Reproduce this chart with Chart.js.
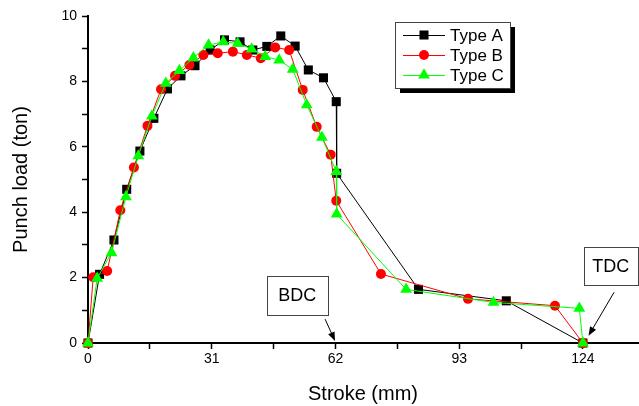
<!DOCTYPE html>
<html>
<head>
<meta charset="utf-8">
<script src="https://cdn.jsdelivr.net/npm/chart.js@4/dist/chart.umd.min.js"></script>
<style>
  html, body { margin: 0; padding: 0; background: #fff; }
  #wrap { width: 639px; height: 406px; }
</style>
</head>
<body>
<div id="wrap"><canvas id="myChart" width="639" height="406"></canvas></div>
<script>
const strokeA = [0, 2.9, 6.5, 9.7, 13.0, 16.5, 19.9, 23.3, 26.8, 30.6, 34.2, 38.1, 41.3, 44.8, 48.3, 51.9, 55.2, 59.0, 62.2, 62.3, 82.8, 104.8, 124];
const loadA = [0, 2.1, 3.15, 4.7, 5.87, 6.87, 7.77, 8.17, 8.48, 8.96, 9.27, 9.21, 8.96, 9.07, 9.39, 9.08, 8.35, 8.11, 7.38, 5.19, 1.64, 1.29, 0];

const strokeB = [0, 1.3, 4.8, 8.1, 11.5, 14.9, 18.3, 21.8, 25.4, 28.9, 32.5, 36.3, 39.8, 43.3, 46.9, 50.4, 53.8, 57.3, 60.8, 62.2, 73.4, 95.2, 117.0, 124];
const loadB = [0, 2.01, 2.2, 4.06, 5.37, 6.64, 7.76, 8.17, 8.5, 8.81, 8.86, 8.91, 8.81, 8.71, 9.04, 8.96, 7.74, 6.61, 5.76, 4.35, 2.11, 1.35, 1.14, 0];

const strokeC = [0, 2.3, 5.9, 9.5, 12.6, 16.0, 19.5, 22.9, 26.4, 30.2, 33.9, 37.5, 41.0, 44.4, 47.9, 51.3, 54.8, 58.6, 62.2, 62.3, 79.7, 101.6, 123.1, 124];
const loadC = [0, 1.98, 2.76, 4.47, 5.72, 6.94, 7.94, 8.33, 8.72, 9.11, 9.21, 9.16, 8.99, 8.76, 8.65, 8.37, 7.28, 6.29, 5.24, 3.94, 1.64, 1.24, 1.06, 0];

const seriesNames = ['Type A', 'Type B', 'Type C'];
const xTickLabels = [0, 31, 62, 93, 124];
const yTickLabels = [0, 2, 4, 6, 8, 10];

const toPoints = (xs, ys) => xs.map((x, i) => ({x: x, y: ys[i]}));

// text boxes with arrows, in data units: box corners, arrow start, arrow tip
const notes = [
    {text: 'BDC', box: [44.8, 2.05, 60.0, 0.86], from: [59.4, 0.73], to: [61.9, 0.06]},
    {text: 'TDC', box: [124.2, 2.93, 137.7, 1.77], from: [131.8, 1.55], to: [125.4, 0.22]}
];

const fontName = '"Liberation Sans", Arial, sans-serif';

const notesPlugin = {
    id: 'notes',
    afterDraw(chart) {
        const c = chart.ctx;
        const xs = chart.scales.x, ys = chart.scales.y;
        c.save();
        notes.forEach(n => {
            const x1 = xs.getPixelForValue(n.box[0]), y1 = ys.getPixelForValue(n.box[1]);
            const x2 = xs.getPixelForValue(n.box[2]), y2 = ys.getPixelForValue(n.box[3]);
            c.fillStyle = '#fff';
            c.fillRect(x1, y1, x2 - x1, y2 - y1);
            c.strokeStyle = '#444';
            c.lineWidth = 1;
            c.strokeRect(Math.round(x1) + 0.5, Math.round(y1) + 0.5, Math.round(x2 - x1), Math.round(y2 - y1));
            c.fillStyle = '#000';
            c.font = '18px ' + fontName;
            c.textAlign = 'center';
            c.textBaseline = 'middle';
            c.fillText(n.text, (x1 + x2) / 2, (y1 + y2) / 2 + 1);
            // arrow
            const ax = xs.getPixelForValue(n.from[0]), ay = ys.getPixelForValue(n.from[1]);
            const bx = xs.getPixelForValue(n.to[0]), by = ys.getPixelForValue(n.to[1]);
            const ang = Math.atan2(by - ay, bx - ax);
            c.strokeStyle = '#000';
            c.beginPath();
            c.moveTo(ax, ay);
            c.lineTo(bx - 6 * Math.cos(ang), by - 6 * Math.sin(ang));
            c.stroke();
            c.beginPath();
            c.moveTo(bx, by);
            c.lineTo(bx - 9 * Math.cos(ang) + 3.5 * Math.sin(ang), by - 9 * Math.sin(ang) - 3.5 * Math.cos(ang));
            c.lineTo(bx - 9 * Math.cos(ang) - 3.5 * Math.sin(ang), by - 9 * Math.sin(ang) + 3.5 * Math.cos(ang));
            c.closePath();
            c.fill();
        });

        // legend box with shadow
        const lx = 395, ly = 22, lw = 115, lh = 66;
        c.fillStyle = '#000';
        c.fillRect(lx + 5, ly + 5, lw, lh);
        c.fillStyle = '#fff';
        c.fillRect(lx, ly, lw, lh);
        c.strokeStyle = '#444';
        c.strokeRect(lx + 0.5, ly + 0.5, lw, lh);
        c.font = '17px ' + fontName;
        c.textAlign = 'left';
        c.textBaseline = 'middle';
        chart.data.datasets.forEach((ds, i) => {
            const yy = ly + 13 + i * 20;
            c.strokeStyle = ds.borderColor;
            c.lineWidth = 1;
            c.beginPath();
            c.moveTo(lx + 8, yy + 0.5);
            c.lineTo(lx + 50, yy + 0.5);
            c.stroke();
            c.fillStyle = ds.backgroundColor;
            Chart.helpers.drawPoint(c, {pointStyle: ds.pointStyle, radius: ds.pointRadius, borderWidth: 0}, lx + 29, yy);
            c.fillStyle = '#000';
            c.fillText(ds.label, lx + 55, yy + 1);
        });
        c.restore();
    }
};

const ctx = document.getElementById('myChart').getContext('2d');

const myChart = new Chart(ctx, {
    type: 'scatter',
    data: {
        datasets: [{
            label: seriesNames[0],
            data: toPoints(strokeA, loadA),
            showLine: true,
            borderColor: '#000000',
            backgroundColor: '#000000',
            borderWidth: 1,
            pointStyle: 'rect',
            pointRadius: 6.4,
            pointBorderWidth: 0,
            clip: false,
            order: 2
        }, {
            label: seriesNames[1],
            data: toPoints(strokeB, loadB),
            showLine: true,
            borderColor: '#ff0000',
            backgroundColor: '#ff0000',
            borderWidth: 1,
            pointStyle: 'circle',
            pointRadius: 5,
            pointBorderWidth: 0,
            clip: false,
            order: 1
        }, {
            label: seriesNames[2],
            data: toPoints(strokeC, loadC),
            showLine: true,
            borderColor: '#00ff00',
            backgroundColor: '#00ff00',
            borderWidth: 1,
            pointStyle: 'triangle',
            pointRadius: 6.8,
            pointBorderWidth: 0,
            clip: false,
            order: 0
        }]
    },
    options: {
        responsive: false,
        maintainAspectRatio: false,
        animation: false,
        layout: {autoPadding: false, padding: {top: 16, right: 1, left: 0, bottom: 0}},
        scales: {
            x: {
                type: 'linear',
                min: 0,
                max: 137.8,
                afterFit: s => { s.height = 63; s.paddingRight = 0; s.paddingLeft = 0; },
                afterBuildTicks: s => {
                    const t = [];
                    for (let v = 0; v <= 124; v += 15.5) t.push({value: v});
                    s.ticks = t;
                },
                ticks: {
                    color: '#000',
                    font: {family: fontName, size: 14},
                    padding: 2,
                    maxRotation: 0,
                    autoSkip: false,
                    callback: v => xTickLabels.includes(v) ? String(v) : ''
                },
                grid: {display: true, drawOnChartArea: false, drawTicks: true, tickLength: 6, tickColor: '#000', tickWidth: 1.5},
                border: {display: true, color: '#000', width: 2},
                title: {
                    display: true,
                    text: 'Stroke (mm)',
                    color: '#000',
                    font: {family: fontName, size: 20},
                    padding: {top: 4, bottom: 0}
                }
            },
            y: {
                min: 0,
                max: 10,
                afterFit: s => { s.width = 88; },
                ticks: {
                    stepSize: 1,
                    color: '#000',
                    font: {family: fontName, size: 14},
                    padding: 5,
                    autoSkip: false,
                    callback: v => yTickLabels.includes(v) ? String(v) : ''
                },
                grid: {display: true, drawOnChartArea: false, drawTicks: true, tickLength: 6, tickColor: '#000', tickWidth: 1.5},
                border: {display: true, color: '#000', width: 2},
                title: {
                    display: true,
                    text: 'Punch load (ton)',
                    color: '#000',
                    font: {family: fontName, size: 20},
                    padding: {top: 9, bottom: 0}
                }
            }
        },
        plugins: {
            legend: {display: false},
            tooltip: {enabled: false}
        }
    },
    plugins: [notesPlugin]
});
</script>
</body>
</html>
